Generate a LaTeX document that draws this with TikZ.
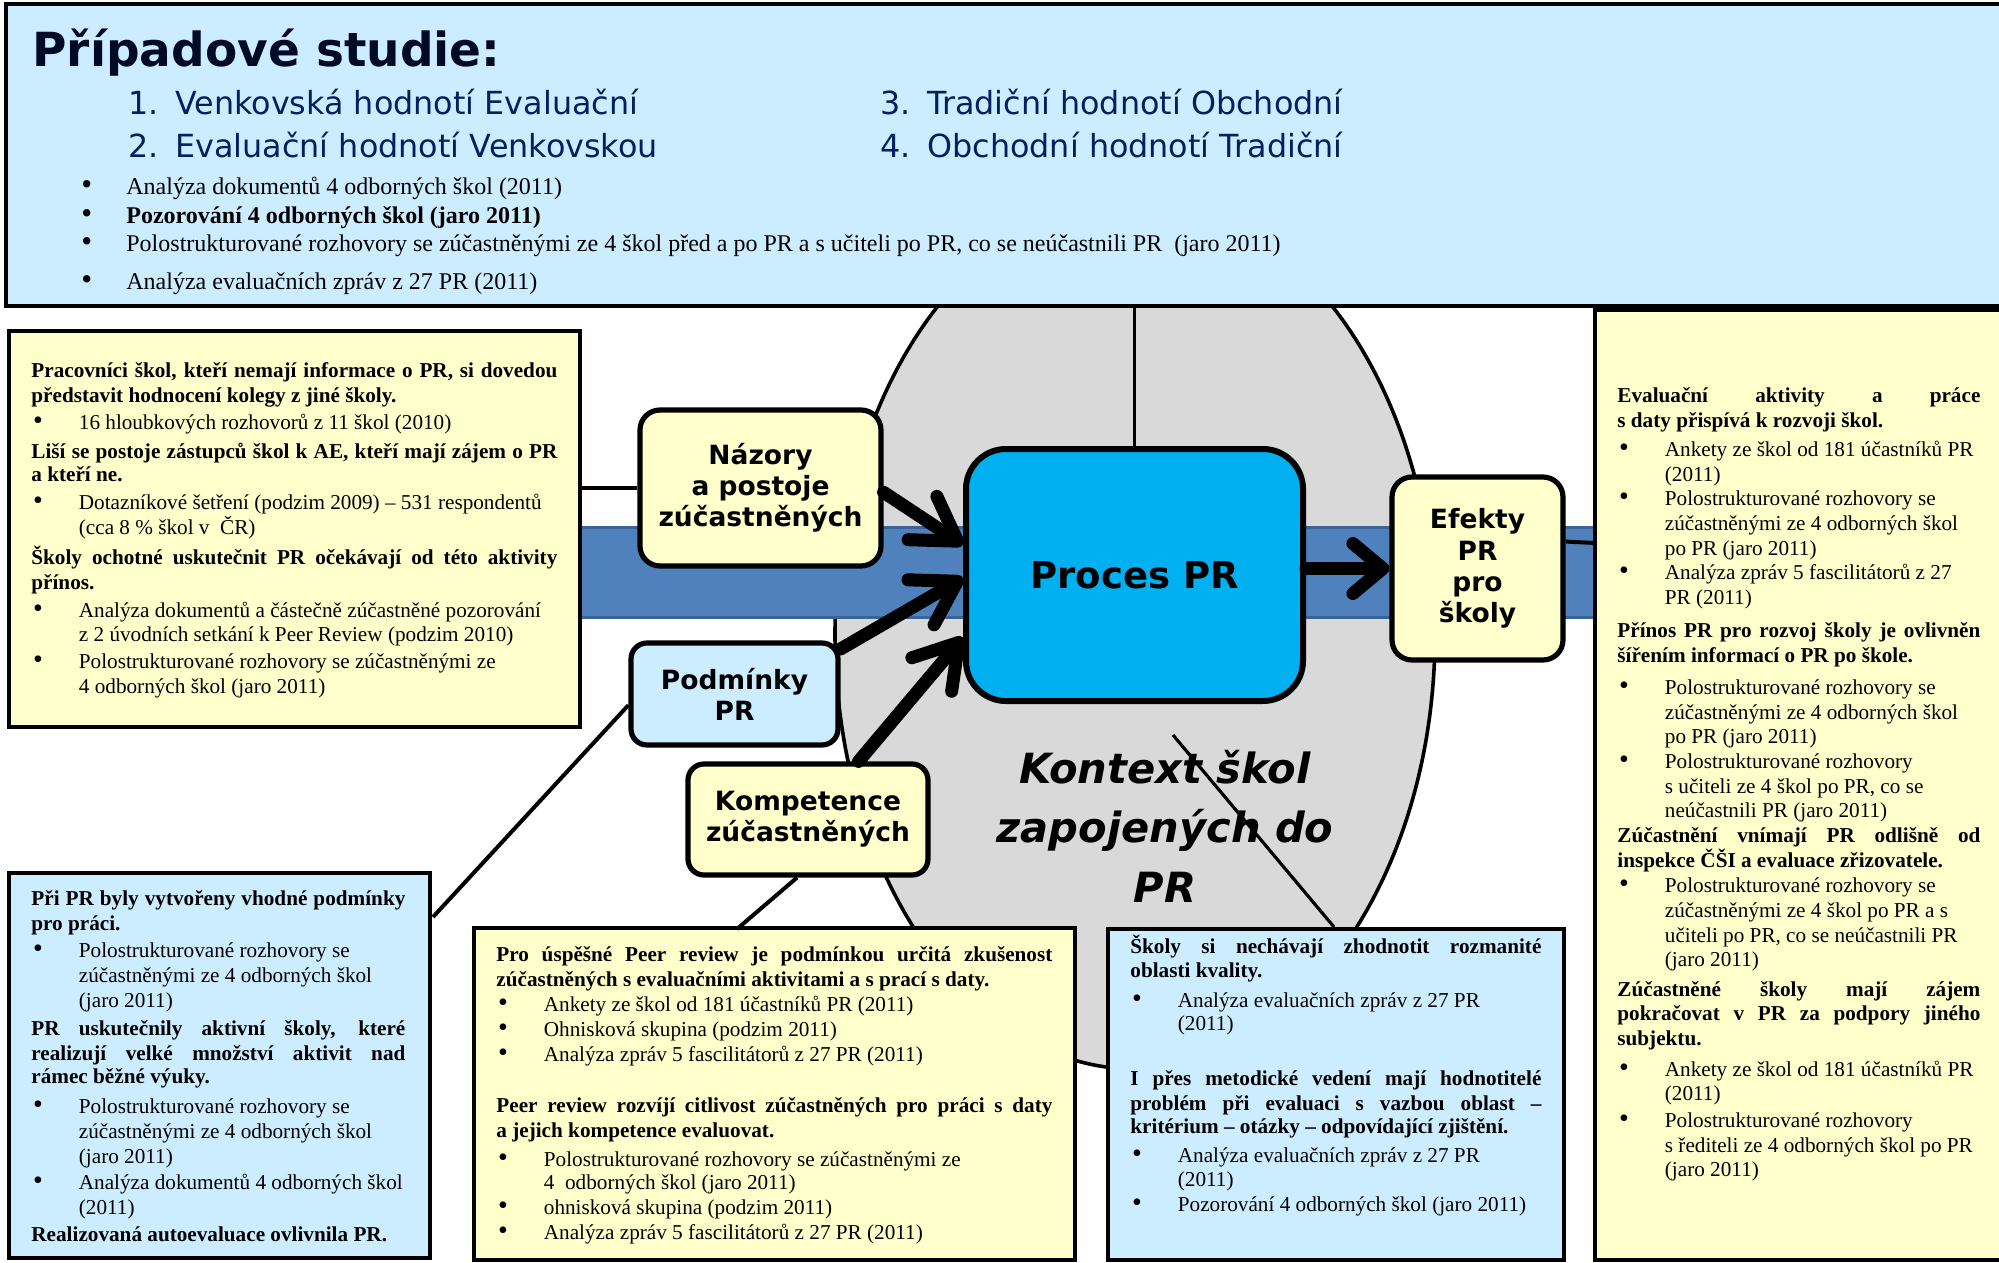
\documentclass[tikz,border=0pt]{standalone}
\usepackage{fontspec}
\setmainfont{Liberation Serif}
\newfontfamily\dvs{DejaVu Sans}
\usetikzlibrary{arrows.meta,shapes.geometric,fit,calc}
\definecolor{yel}{HTML}{FFFFCC}
\definecolor{lbl}{HTML}{CCECFF}
\definecolor{pbl}{HTML}{00B0F0}
\definecolor{bandc}{HTML}{4F81BD}
\definecolor{bandd}{HTML}{3A6397}
\definecolor{gry}{HTML}{D9D9D9}
\definecolor{navy}{HTML}{002060}
\definecolor{ttl}{HTML}{000A26}
\newcommand{\bigbul}{{\fontsize{14}{14}\selectfont\textbullet}}
\newcommand{\lnB}[1]{\mbox{\hspace*{0.8pt}\makebox[22.95pt][l]{\bigbul}#1}}
\newcommand{\lnC}[1]{\mbox{\hspace*{23.75pt}#1}}
\newcommand{\lnJ}[2]{\makebox[#1][s]{#2}}
\newcommand{\lnS}{\rule{0pt}{11pt}}
\newcommand{\topbul}{\makebox[21.5pt][l]{\hspace*{-1pt}{\fontsize{15.5}{15.5}\selectfont\textbullet}}}
\begin{document}
\begin{tikzpicture}[x=0.5pt,y=-0.5pt,
  tb/.style={draw=black,line width=2pt,inner sep=0pt},
  ybox/.style={tb,fill=yel},
  bbox/.style={tb,fill=lbl},
  rbx/.style={draw=black,line width=2.6pt,rounded corners=#1,inner sep=0pt,align=center,font=\dvs\bfseries\fontsize{13.25}{15.6}\selectfont},
  txt/.style={anchor=north west,inner sep=0pt,align=left,font=\fontsize{10.6}{#1}\selectfont},
  sub/.style={anchor=base west,inner sep=0pt,text=navy,font=\dvs\fontsize{15.9}{19}\selectfont},
  arr/.style={line width=6.5pt,line cap=round,-{Straight Barb[length=21pt,width=26pt,round]}},
  arrs/.style={line width=6.5pt,line cap=round,-{Straight Barb[length=15pt,width=25pt,round]}},
  conn/.style={line width=2pt},
]
\useasboundingbox (0,0) rectangle (1999,1263);
\fill[white] (0,0) rectangle (1999,1263);
\clip (0,0) rectangle (1999,1263);

% context ellipse and band
\node[ellipse,draw=black,line width=1.8pt,fill=gry,minimum width=300pt,minimum height=435pt,inner sep=0pt] (ctx) at (1135,634) {};
\node[fill=bandc,draw=bandd,line width=1.5pt,inner sep=0pt,fit={(580,527) (1594,617)}] (band) {};

% top box
\node[bbox,fit={(6,4) (2010,306)}] (top) {};
\node[anchor=base west,inner sep=0pt,text=ttl,font=\dvs\bfseries\fontsize{23.5}{28}\selectfont] (title) at (32,67) {Případové studie:};
\node[sub] (s1) at (128,115) {\makebox[23.5pt][l]{1.}Venkovská hodnotí Evaluační};
\node[sub] (s2) at (128,158) {\makebox[23.5pt][l]{2.}Evaluační hodnotí Venkovskou};
\node[sub] (s3) at (880,115) {\makebox[23.5pt][l]{3.}Tradiční hodnotí Obchodní};
\node[sub] (s4) at (880,158) {\makebox[23.5pt][l]{4.}Obchodní hodnotí Tradiční};
\node[anchor=north west,inner sep=0pt,align=left,font=\fontsize{12}{14.3}\selectfont] (topb) at (83,172) {%
\lnS\topbul Analýza dokumentů 4 odborných škol (2011)\\
\topbul\textbf{Pozorování 4 odborných škol (jaro 2011)}\\
\topbul Polostrukturované rozhovory se zúčastněnými ze 4 škol před a po PR a s učiteli po PR, co se neúčastnili PR~ (jaro 2011)\\[4.7pt]
\topbul Analýza evaluačních zpráv z 27 PR (2011)};

% left yellow box
\node[ybox,fit={(9,331) (580,727)}] (lyel) {};
\node[txt=12.45] (lyelt) at (31,355) {%
\lnS\lnJ{263pt}{\bfseries Pracovníci škol, kteří nemají informace o PR, si dovedou}\\
\textbf{představit hodnocení kolegy z jiné školy.}\\[0.9pt]
\lnB{16 hloubkových rozhovorů z 11 škol (2010)}\\[2.2pt]
\lnJ{263pt}{\bfseries Liší se postoje zástupců škol k AE, kteří mají zájem o PR}\\[-0.8pt]
\textbf{a kteří ne.}\\[1.7pt]
\lnB{Dotazníkové šetření (podzim 2009) – 531 respondentů}\\
\lnC{(cca 8 \% škol v~ ČR)}\\[2.2pt]
\lnJ{263pt}{\bfseries Školy ochotné uskutečnit PR očekávají od této aktivity}\\
\textbf{přínos.}\\[1.9pt]
\lnB{Analýza dokumentů a částečně zúčastněné pozorování}\\[-0.8pt]
\lnC{z 2 úvodních setkání k Peer Review (podzim 2010)}\\[1.2pt]
\lnB{Polostrukturované rozhovory se zúčastněnými ze}\\
\lnC{4 odborných škol (jaro 2011)}};

% right yellow box
\node[ybox,fit={(1595,310) (2010,1260)}] (ryel) {};
\node[txt=12.35] (ryelt) at (1617,380) {%
\lnS\lnJ{181.5pt}{\bfseries Evaluační aktivity a práce}\\
\textbf{s daty přispívá k rozvoji škol.}\\[2.3pt]
\lnB{Ankety ze škol od 181 účastníků PR}\\
\lnC{(2011)}\\
\lnB{Polostrukturované rozhovory se}\\
\lnC{zúčastněnými ze 4 odborných škol}\\
\lnC{po PR (jaro 2011)}\\
\lnB{Analýza zpráv 5 fascilitátorů z 27}\\
\lnC{PR (2011)}\\[4.2pt]
\lnJ{181.5pt}{\bfseries Přínos PR pro rozvoj školy je ovlivněn}\\
\textbf{šířením informací o PR po škole.}\\[3.6pt]
\lnB{Polostrukturované rozhovory se}\\
\lnC{zúčastněnými ze 4 odborných škol}\\
\lnC{po PR (jaro 2011)}\\
\lnB{Polostrukturované rozhovory}\\
\lnC{s učiteli ze 4 škol po PR, co se}\\
\lnC{neúčastnili PR (jaro 2011)}\\[0.2pt]
\lnJ{181.5pt}{\bfseries Zúčastnění vnímají PR odlišně od}\\
\textbf{inspekce ČŠI a evaluace zřizovatele.}\\[0.2pt]
\lnB{Polostrukturované rozhovory se}\\
\lnC{zúčastněnými ze 4 škol po PR a s}\\
\lnC{učiteli po PR, co se neúčastnili PR}\\
\lnC{(jaro 2011)}\\[2.3pt]
\lnJ{181.5pt}{\bfseries Zúčastněné školy mají zájem}\\
\lnJ{181.5pt}{\bfseries pokračovat v PR za podpory jiného}\\
\textbf{subjektu.}\\[2.9pt]
\lnB{Ankety ze škol od 181 účastníků PR}\\
\lnC{(2011)}\\[1.0pt]
\lnB{Polostrukturované rozhovory}\\
\lnC{s řediteli ze 4 odborných škol po PR}\\
\lnC{(jaro 2011)}};

% bottom-left blue box
\node[bbox,fit={(9,873) (430,1258)}] (blb) {};
\node[txt=12.42] (blbt) at (31,883) {%
\lnS\lnJ{187pt}{\bfseries Při PR byly vytvořeny vhodné podmínky}\\
\textbf{pro práci.}\\[1.2pt]
\lnB{Polostrukturované rozhovory se}\\
\lnC{zúčastněnými ze 4 odborných škol}\\
\lnC{(jaro 2011)}\\[1.7pt]
\lnJ{187pt}{\bfseries PR uskutečnily aktivní školy, které}\\
\lnJ{187pt}{\bfseries realizují velké množství aktivit nad}\\[-0.8pt]
\textbf{rámec běžné výuky.}\\[2.7pt]
\lnB{Polostrukturované rozhovory se}\\
\lnC{zúčastněnými ze 4 odborných škol}\\
\lnC{(jaro 2011)}\\[0.7pt]
\lnB{Analýza dokumentů 4 odborných škol}\\
\lnC{(2011)}\\[0.9pt]
\textbf{Realizovaná autoevaluace ovlivnila PR.}};

% bottom-middle yellow box
\node[ybox,fit={(474,928) (1075,1260)}] (bmy) {};
\node[txt=12.45] (bmyt) at (496,939) {%
\lnS\lnJ{278pt}{\bfseries Pro úspěšné Peer review je podmínkou určitá zkušenost}\\
\textbf{zúčastněných s evaluačními aktivitami a s prací s daty.}\\
\lnB{Ankety ze škol od 181 účastníků PR (2011)}\\
\lnB{Ohnisková skupina (podzim 2011)}\\
\lnB{Analýza zpráv 5 fascilitátorů z 27 PR (2011)}\\[13.2pt]
\lnJ{278pt}{\bfseries Peer review rozvíjí citlivost zúčastněných pro práci s daty}\\
\textbf{a jejich kompetence evaluovat.}\\[2.2pt]
\lnB{Polostrukturované rozhovory se zúčastněnými ze}\\[-0.8pt]
\lnC{4~ odborných škol (jaro 2011)}\\
\lnB{ohnisková skupina (podzim 2011)}\\
\lnB{Analýza zpráv 5 fascilitátorů z 27 PR (2011)}};

% bottom-right blue box
\node[bbox,fit={(1108,929) (1564,1260)}] (brb) {};
\node[txt=12.2] (brbt) at (1130,931) {%
\lnS\lnJ{205.5pt}{\bfseries Školy si nechávají zhodnotit rozmanité}\\
\textbf{oblasti kvality.}\\[2.8pt]
\lnB{Analýza evaluačních zpráv z 27 PR}\\[-0.7pt]
\lnC{(2011)}\\[15.3pt]
\lnJ{205.5pt}{\bfseries I přes metodické vedení mají hodnotitelé}\\
\lnJ{205.5pt}{\bfseries problém při evaluaci s vazbou oblast –}\\[-0.7pt]
\textbf{kritérium – otázky – odpovídající zjištění.}\\[2.3pt]
\lnB{Analýza evaluačních zpráv z 27 PR}\\
\lnC{(2011)}\\
\lnB{Pozorování 4 odborných škol (jaro 2011)}};

% context label
\node[align=center,inner sep=0pt,anchor=north,font=\dvs\bfseries\itshape\fontsize{20.8}{29.75}\selectfont] (kon) at (1165,743) {\rule{0pt}{20pt}Kontext škol\\zapojených do\\PR};

% process nodes
\node[rbx=20pt,fill=pbl,line width=3pt,minimum width=168.5pt,minimum height=126pt,font=\dvs\bfseries\fontsize{18.5}{22}\selectfont] (proc) at (1134.5,575) {Proces PR};
\node[rbx=10pt,fill=yel,minimum width=120.5pt,minimum height=78pt] (naz) at (760.5,488) {Názory\\a postoje\\zúčastněných};
\node[rbx=10pt,fill=yel,minimum width=85.5pt,minimum height=91.5pt] (efe) at (1477.5,568.5) {Efekty\\PR\\pro\\školy};
\node[rbx=8pt,fill=lbl,minimum width=103.5pt,minimum height=51pt] (podm) at (734.5,694) {Podmínky\\PR};
\node[rbx=8pt,fill=yel,minimum width=120pt,minimum height=55.5pt] (komp) at (808,819.5) {Kompetence\\zúčastněných};

% free ends of connectors
\coordinate (podmEnd) at (433,917);
\coordinate (kompEnd) at (737,929);
\coordinate (diagA) at (1173,735);
\coordinate (diagB) at (1334,927);
\coordinate (efeEnd) at (1595,543);

% thin connectors
\draw[line width=1.4pt] (proc.north) -- (proc.north |- top.south);
\draw[line width=2.4pt] (naz.west) -- (naz.west -| lyel.east);
\draw[conn] (podm.186) -- (podmEnd);
\draw[conn] ($(komp.south)+(-11,0)$) -- (kompEnd);
\draw[line width=1.6pt] (diagA) -- (diagB);
\draw[conn] (efe.17.8) -- (efeEnd);

% thick arrows
\draw[arr] (naz.-2.4) -- (proc.170.1);
\draw[arr] (podm.23) -- (proc.181);
\draw[arr] (komp.49.7) -- (proc.200.6);
\draw[arrs] (efe.west -| proc.east) -- (efe.west);
\end{tikzpicture}
\end{document}
